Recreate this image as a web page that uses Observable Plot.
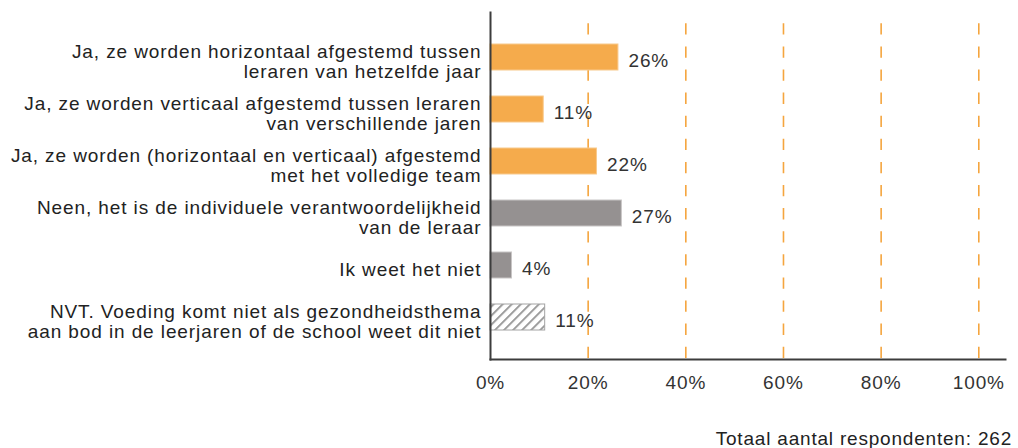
<!DOCTYPE html>
<html>
<head>
<meta charset="utf-8">
<script src="https://cdn.jsdelivr.net/npm/d3@7"></script>
<script src="https://cdn.jsdelivr.net/npm/@observablehq/plot@0.6"></script>
<style>
  html, body { margin: 0; padding: 0; background: #fff; }
  #chart svg { display: block; }
  #chart svg text { letter-spacing: 0.9px; }
  #caption {
    font-family: "Liberation Sans", Arial, sans-serif;
    font-size: 19px;
    letter-spacing: 0.8px;
    line-height: 24px;
    color: #222;
    text-align: right;
    width: 1018px;
    box-sizing: border-box;
    padding-right: 6px;
    margin-top: 27px;
  }
</style>
</head>
<body>
<div id="chart"></div>
<div id="caption">Totaal aantal respondenten: 262</div>
<script>
const categories = [
  "Ja, ze worden horizontaal afgestemd tussen\nleraren van hetzelfde jaar",
  "Ja, ze worden verticaal afgestemd tussen leraren\nvan verschillende jaren",
  "Ja, ze worden (horizontaal en verticaal) afgestemd\nmet het volledige team",
  "Neen, het is de individuele verantwoordelijkheid\nvan de leraar",
  "Ik weet het niet",
  "NVT. Voeding komt niet als gezondheidsthema\naan bod in de leerjaren of de school weet dit niet"
];
const values = [26.2, 10.9, 21.8, 26.9, 4.4, 11.2];
const valueLabels = ["26%", "11%", "22%", "27%", "4%", "11%"];
const groups = ["ja", "ja", "ja", "neen", "neen", "nvt"];
const xTicks = [0, 20, 40, 60, 80, 100];
const gridTicks = [20, 40, 60, 80, 100];

const fillByGroup = {ja: "#f5ab4c", neen: "#959191", nvt: "url(#hatch)"};
const strokeByGroup = {ja: "#f8c98c", neen: "#c8c5c5", nvt: "#a3a3a3"};

const rows = categories.map((c, i) => ({cat: c, value: values[i], label: valueLabels[i], group: groups[i]}));

const font = "'Liberation Sans', Arial, sans-serif";

const svg = Plot.plot({
  width: 1018,
  height: 400,
  marginLeft: 490,
  marginRight: 13,
  marginTop: 12,
  marginBottom: 41,
  style: {fontFamily: font, fontSize: "19px", color: "#222", background: "#fff", overflow: "visible"},
  x: {domain: [0, 100], range: [490, 978.3], axis: null},
  y: {type: "band", domain: categories, range: [31, 343], paddingInner: 0.5, paddingOuter: 0.25, align: 0.5, axis: null},
  marks: [
    Plot.ruleX(gridTicks, {x: d => d, stroke: "#f5a53e", strokeWidth: 1.6, strokeDasharray: "11.3,11.8", strokeDashoffset: 11.8}),
    Plot.barX(rows, {
      y: "cat", x1: 0, x2: "value",
      fill: d => fillByGroup[d.group],
      stroke: d => strokeByGroup[d.group],
      strokeWidth: 1
    }),
    Plot.text(rows, {
      y: "cat", x: "value", text: "label",
      textAnchor: "start", dx: 10, dy: 3.5,
      fill: "#333", fontSize: 19
    }),
    Plot.text(rows, {
      y: "cat", x: 0, text: "cat",
      textAnchor: "end", dx: -9, dy: 3.6,
      lineHeight: 20 / 19,
      fill: "#222", fontSize: 19
    }),
    Plot.text(xTicks, {
      x: d => d, text: d => d + "%",
      frameAnchor: "bottom", lineAnchor: "top", dy: 15.8,
      fill: "#333", fontSize: 19
    }),
    Plot.frame({anchor: "left", stroke: "#3c3c3c", strokeWidth: 2}),
    Plot.frame({anchor: "bottom", stroke: "#3c3c3c", strokeWidth: 2})
  ]
});

d3.select(svg).insert("defs", ":first-child").html(
  '<pattern id="hatch" patternUnits="userSpaceOnUse" width="6.4" height="6.4" patternTransform="rotate(45)">' +
  '<rect width="6.4" height="6.4" fill="#ffffff"></rect>' +
  '<rect x="0" y="0" width="2" height="6.4" fill="#9c9c9c"></rect>' +
  '</pattern>'
);

document.getElementById("chart").appendChild(svg);
</script>
</body>
</html>
